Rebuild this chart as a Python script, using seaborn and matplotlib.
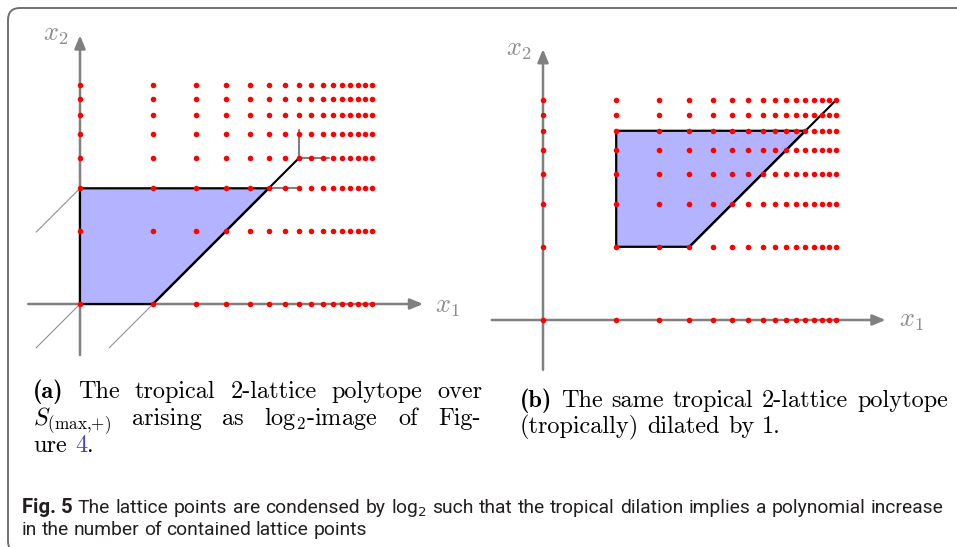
import numpy as np
import pandas as pd
import matplotlib
matplotlib.use("Agg")
import matplotlib.pyplot as plt
import seaborn as sns
from matplotlib.patches import FancyBboxPatch
from matplotlib.transforms import Affine2D, IdentityTransform
from matplotlib import font_manager

# ---------------- data ----------------
# lattice points are the integers n >= 1, drawn on a log2 scale
lattice_n1 = [1, 2, 3, 4, 5, 6, 7, 8, 9, 10, 11, 12, 13, 14, 15, 16]
lattice_n2 = [1, 2, 3, 4, 5, 6, 7, 8]

# polytope (a) vertices in integer coordinates
poly_a_n1 = [1, 2, 6, 1]
poly_a_n2 = [1, 1, 3, 3]
# tropical line x2 = x1 - 1 (diagonal ray ending at apex (8,4))
diag_a_n1 = [2, 8]
diag_a_n2 = [1, 4]
apex_a = (8, 4)
# gray continuation of the top edge
top_ext_a_n1 = [6, 8]
top_ext_a_n2 = [3, 3]

# polytope (b): tropically dilated by 1
poly_b_n1 = [2, 4, 12, 2]
poly_b_n2 = [2, 2, 6, 6]
diag_b_n1 = [4, 16]
diag_b_n2 = [2, 8]

caption_a = [
    ["(a)", "The", "tropical", "2-lattice", "polytope", "over"],
    [r"$S_{(\max{,}{+})}$", "arising", "as", r"$\log_2\!$-image", "of", "Fig-"],
]
caption_b = [
    ["(b)", "The", "same", "tropical", "2-lattice", "polytope"],
    ["(tropically)", "dilated", "by", "1."],
]
fig_caption_1 = ("The lattice points are condensed by log$_2$ such that the tropical "
                 "dilation implies a polynomial increase").split(" ")
fig_caption_2 = "in the number of contained lattice points".split(" ")

# ---------------- setup ----------------
W, H = 957, 547
sns.set_theme(style="white")
plt.rcParams["mathtext.fontset"] = "cm"
plt.rcParams["font.family"] = ["DejaVu Sans"]
plt.rcParams["axes.unicode_minus"] = False

available = {f.name for f in font_manager.fontManager.ttflist}
CAPFONT = "Liberation Sans Narrow" if "Liberation Sans Narrow" in available else "Roboto"

fig = plt.figure(figsize=(W / 100, H / 100), dpi=100)
PX = Affine2D().scale(1, -1).translate(0, H)  # pixel coords, y downward

GRAY = "#808080"
RED = "#ff0000"
FILL = "#b3b3ff"

lat = pd.DataFrame([(a, b) for a in lattice_n1 for b in lattice_n2], columns=["n1", "n2"])


def px_axes(x0, y0, x1, y1, ox, oy, unit):
    ax = fig.add_axes([x0 / W, 1 - y1 / H, (x1 - x0) / W, (y1 - y0) / H])
    ax.set_xscale("log", base=2)
    ax.set_yscale("log", base=2)
    ax.set_xlim(2 ** ((x0 - ox) / unit), 2 ** ((x1 - ox) / unit))
    ax.set_ylim(2 ** ((oy - y1) / unit), 2 ** ((oy - y0) / unit))
    ax.set_axis_off()
    return ax


def axis_arrows(ax, xlo, xhi, ylo, yhi):
    kw = dict(arrowstyle="-|>,head_length=0.6,head_width=0.25", color=GRAY,
              lw=1.8, shrinkA=0, shrinkB=0, mutation_scale=13)
    ax.annotate("", xy=(2 ** xhi, 1), xytext=(2 ** xlo, 1), arrowprops=kw, zorder=1)
    ax.annotate("", xy=(1, 2 ** yhi), xytext=(1, 2 ** ylo), arrowprops=kw, zorder=1)


def draw_poly(ax, px, py, dx, dy):
    ax.fill(px, py, color=FILL, lw=0, zorder=2)
    ax.plot(px + [px[0]], py + [py[0]], color="black", lw=1.6, zorder=3,
            solid_joinstyle="miter")
    ax.plot(dx, dy, color="black", lw=1.5, zorder=3)


def draw_points(ax):
    sns.scatterplot(data=lat, x="n1", y="n2", ax=ax, color=RED, s=16,
                    linewidth=0, zorder=5, legend=False)
    ax.set_axis_off()


# ---------------- panel (a) ----------------
axa = px_axes(15, 20, 475, 362, 80, 304, 73.0)
axis_arrows(axa, -0.71, 4.70, -0.70, 3.68)
draw_poly(axa, poly_a_n1, poly_a_n2, diag_a_n1, diag_a_n2)
# tropical apex rays
axa.plot([apex_a[0], apex_a[0]], [apex_a[1], apex_a[1] * 2 ** 0.39], color=GRAY, lw=1.5, zorder=3)
axa.plot([apex_a[0], apex_a[0] * 2 ** 0.41], [apex_a[1], apex_a[1]], color=GRAY, lw=1.5, zorder=3)
axa.plot(top_ext_a_n1, top_ext_a_n2, color=GRAY, lw=1.5, zorder=3)
# lines towards -infinity
s = 2 ** -0.6
for (p1, p2) in [(1, 3), (1, 1), (2, 1)]:
    axa.plot([p1, p1 * s], [p2, p2 * s], color="#909090", lw=0.8, zorder=1)
draw_points(axa)
axa.text(2 ** -0.34, 2 ** 3.70, r"$x_2$", color="#8c8c8c", fontsize=19, ha="center", va="center")
axa.text(2 ** 5.04, 2 ** -0.03, r"$x_1$", color="#8c8c8c", fontsize=19, ha="center", va="center")

# ---------------- panel (b) ----------------
axb = px_axes(488, 30, 950, 378, 543, 320, 73.2)
axis_arrows(axb, -0.70, 4.68, -0.68, 3.70)
draw_poly(axb, poly_b_n1, poly_b_n2, diag_b_n1, diag_b_n2)
draw_points(axb)
axb.text(2 ** -0.33, 2 ** 3.70, r"$x_2$", color="#8c8c8c", fontsize=19, ha="center", va="center")
axb.text(2 ** 5.03, 2 ** 0.0, r"$x_1$", color="#8c8c8c", fontsize=19, ha="center", va="center")

# ---------------- texts ----------------
renderer = fig.canvas.get_renderer()


def place(words, kws, x0, y, x1=None, space=7.0):
    texts = [fig.text(0, 0, w, transform=PX, ha="left", va="baseline", **k)
             for w, k in zip(words, kws)]
    widths = [t.get_window_extent(renderer).width for t in texts]
    if x1 is not None and len(texts) > 1:
        gap = (x1 - x0 - sum(widths)) / (len(texts) - 1)
    else:
        gap = space
    x = x0
    for t, w in zip(texts, widths):
        t.set_position((x, y))
        x += w + gap
    return x


SFS = 17.5
SUB = dict(fontfamily="cmr10", fontsize=SFS, color="black")
SUBB = dict(fontfamily="cmb10", fontsize=SFS, color="black")
SPACE = SFS * 100 / 72 * 0.333

place(caption_a[0], [SUBB] + [SUB] * 5, 33, 398, 482)
place(caption_a[1], [SUB] * 6, 33, 425, 481)
xe = place(["ure"], [SUB], 33, 452, space=SPACE)
t4 = fig.text(xe, 452, "4", transform=PX, ha="left", va="baseline", **{**SUB, "color": "#4646a6"})
w4 = t4.get_window_extent(renderer).width
fig.text(xe + w4, 452, ".", transform=PX, ha="left", va="baseline", **SUB)

place(caption_b[0], [SUBB] + [SUB] * 5, 520, 407, 948)
place(caption_b[1], [SUB] * 4, 520, 433, space=SPACE)

# figure caption (sans)
CAPC = "#231f20"
probe = fig.text(0, 0, " ".join(fig_caption_2), transform=PX, fontfamily=CAPFONT,
                 fontsize=12)
wp = probe.get_window_extent(renderer).width
probe.remove()
cfs = 12 * 372 / wp
probe = fig.text(0, 0, " ".join(fig_caption_1), transform=PX, fontfamily=CAPFONT,
                 fontsize=cfs, math_fontfamily="dejavusans")
w1 = probe.get_window_extent(renderer).width
probe.remove()
if w1 > 860:
    cfs = cfs * 860 / w1
CAP = dict(fontfamily=CAPFONT, fontsize=cfs, color=CAPC, math_fontfamily="dejavusans")
fig.text(22, 513, "Fig. 5", transform=PX, ha="left", va="baseline",
         fontfamily=CAPFONT, fontweight="bold", fontsize=cfs * 1.05, color=CAPC)
place(fig_caption_1, [CAP] * len(fig_caption_1), 78, 513, 944)
place(fig_caption_2, [CAP] * len(fig_caption_2), 22, 535, space=cfs * 100 / 72 * 0.24)

# rounded border (bottom and right edges fall outside the image)
border = FancyBboxPatch((8, -6), 980, 545, boxstyle="round,pad=0,rounding_size=12",
                        transform=IdentityTransform(), fill=False, edgecolor="#707070", lw=1.4)
fig.patches.append(border)

fig.savefig("out.png", dpi=100)
